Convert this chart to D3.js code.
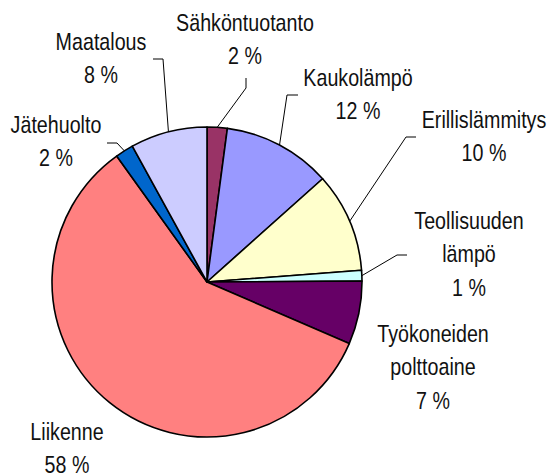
<!DOCTYPE html>
<html>
<head>
<meta charset="utf-8">
<script src="https://cdnjs.cloudflare.com/ajax/libs/d3/7.8.5/d3.min.js"></script>
<style>
  html, body { margin: 0; padding: 0; background: #fff; }
  text { font-family: "Liberation Sans Narrow", "Arial Narrow", "Liberation Sans", sans-serif; font-size: 24px; fill: #111; }
</style>
</head>
<body>
<div id="chart"></div>
<script>
// Datos (sectores en sentido horario desde arriba)
const categories = ['Sähköntuotanto', 'Kaukolämpö', 'Erillislämmitys', 'Teollisuuden\nlämpö', 'Työkoneiden\npolttoaine', 'Liikenne', 'Jätehuolto', 'Maatalous'];
const values = [2.1, 11.3, 10.4, 1.1, 6.6, 58.6, 1.9, 8.0];
const pctLabels = [2, 12, 10, 1, 7, 58, 2, 8];
const colors = ['#993366', '#9999ff', '#ffffcc', '#ccffff', '#660066', '#ff8080', '#0066cc', '#ccccff'];

let width = 549, height = 475;
let cx = 207, cy = 282, r = 155;
let lineH = 33.5;
let narrow = 0.82; // simula Arial Narrow

// posiciones de las etiquetas y codos de las líneas guía
const labelLayout = [
    {x: 245, y: 31, elbow: [246, 88], end: [246, 78]},
    {x: 358, y: 86, elbow: [287, 95], end: [298, 95]},
    {x: 484, y: 128, elbow: [406, 137], end: [416, 137]},
    {x: 469, y: 229, elbow: [397, 255], end: [407, 255]},
    {x: 433, y: 342},
    {x: 67, y: 440},
    {x: 56, y: 133, elbow: [117, 143], end: [107, 143]},
    {x: 101, y: 50, elbow: [163, 59], end: [153, 59]}
];

const svg = d3.select('#chart')
    .append('svg')
    .attr('width', width)
    .attr('height', height);

let pie = d3.pie().sort(null).value(d => d);
let arcs = pie(values);
let arc = d3.arc().innerRadius(0).outerRadius(r);

let g = svg.append('g').attr('transform', 'translate(' + cx + ',' + cy + ')');

g.selectAll('path')
    .data(arcs)
    .enter()
    .append('path')
    .attr('d', arc)
    .attr('fill', (d, i) => colors[i])
    .attr('stroke', '#000')
    .attr('stroke-width', 1.6)
    .attr('stroke-linejoin', 'round');

//Líneas guía
arcs.forEach(function(d, i) {
    let l = labelLayout[i];
    if(!l.elbow) return;
    let a = (d.startAngle + d.endAngle) / 2;
    let start = [cx + r * Math.sin(a), cy - r * Math.cos(a)];
    svg.append('polyline')
        .attr('points', [start, l.elbow, l.end].map(p => p.join(',')).join(' '))
        .attr('fill', 'none')
        .attr('stroke', '#000')
        .attr('stroke-width', 1);
});

//Etiquetas
categories.forEach(function(c, i) {
    let l = labelLayout[i];
    let lines = c.split('\n').concat([pctLabels[i] + ' %']);
    let t = svg.append('text')
        .attr('text-anchor', 'middle')
        .attr('transform', 'translate(' + l.x + ',0) scale(' + narrow + ',1)');
    lines.forEach(function(s, j) {
        t.append('tspan')
            .attr('x', 0)
            .attr('y', l.y + j * lineH)
            .text(s);
    });
});
</script>
</body>
</html>
